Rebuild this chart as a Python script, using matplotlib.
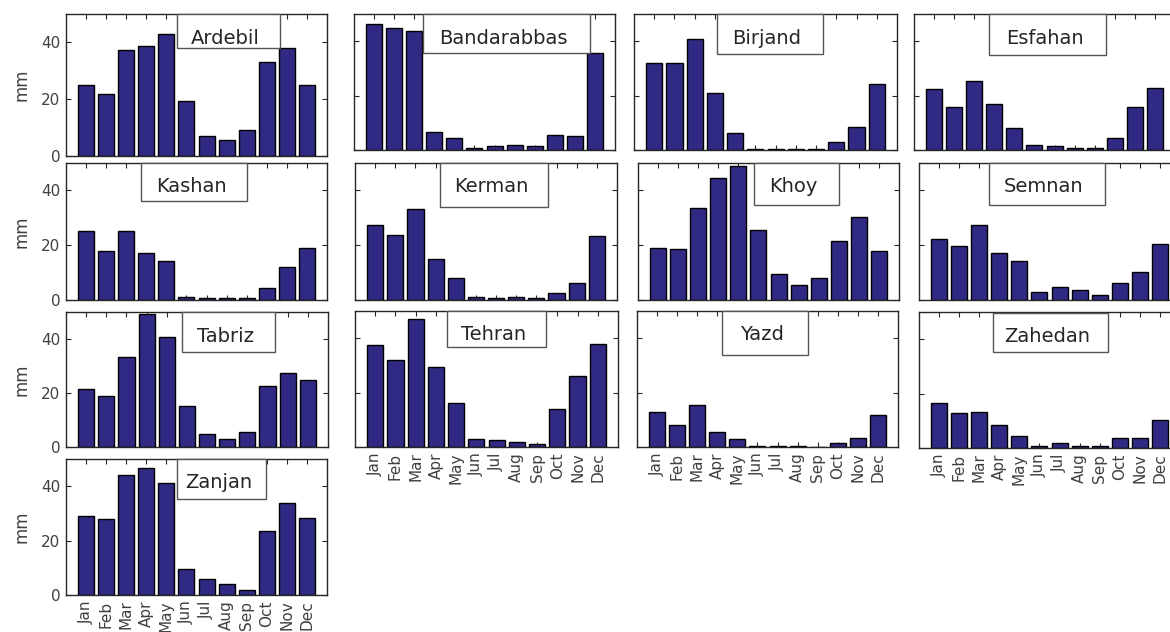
import matplotlib
matplotlib.use("Agg")
import matplotlib.pyplot as plt
from matplotlib.patches import Rectangle

plt.rcParams['font.family'] = ['DejaVu Sans']

months = ['Jan', 'Feb', 'Mar', 'Apr', 'May', 'Jun', 'Jul', 'Aug', 'Sep', 'Oct', 'Nov', 'Dec']
cities = ['Ardebil', 'Bandarabbas', 'Birjand', 'Esfahan', 'Kashan', 'Kerman', 'Khoy',
          'Semnan', 'Tabriz', 'Tehran', 'Yazd', 'Zahedan', 'Zanjan']

ardebil = [25.0, 22.0, 37.2, 38.9, 43.1, 19.2, 6.9, 5.7, 9.3, 33.2, 37.9, 25.0]
bandarabbas = [46.3, 44.8, 43.8, 6.7, 4.5, 0.9, 1.5, 1.9, 1.5, 5.6, 5.0, 35.5]
birjand = [32.1, 32.1, 40.9, 21.1, 6.1, 0.5, 0.5, 0.5, 0.5, 3.1, 8.6, 24.1]
esfahan = [22.3, 15.7, 25.5, 16.9, 8.0, 2.0, 1.5, 0.9, 0.9, 4.5, 15.7, 22.9]
kashan = [25.2, 18.0, 25.2, 17.3, 14.4, 1.2, 0.7, 0.7, 0.7, 4.3, 12.0, 19.1]
kerman = [27.4, 23.8, 33.3, 15.1, 7.9, 1.2, 0.7, 1.2, 0.7, 2.4, 6.1, 23.4]
khoy = [19.1, 18.6, 33.5, 44.6, 48.9, 25.5, 9.5, 5.5, 7.9, 21.6, 30.4, 17.9]
semnan = [22.1, 19.7, 27.4, 17.3, 14.4, 2.9, 4.9, 3.6, 1.8, 6.1, 10.2, 20.3]
tabriz = [21.3, 18.8, 33.5, 49.2, 40.7, 15.1, 4.7, 3.1, 5.5, 22.6, 27.5, 24.8]
tehran = [37.4, 32.0, 47.0, 29.5, 16.2, 3.1, 2.5, 1.7, 1.1, 14.0, 26.0, 38.0]
yazd = [13.0, 8.1, 15.5, 5.5, 3.0, 0.4, 0.4, 0.4, 0.1, 1.5, 3.3, 11.9]
zahedan = [16.4, 12.7, 13.2, 8.4, 4.3, 0.6, 1.8, 0.6, 0.6, 3.7, 3.7, 10.2]
zanjan = [29.1, 27.9, 44.2, 46.7, 41.3, 9.7, 5.9, 4.1, 1.7, 23.7, 33.9, 28.4]

series = [ardebil, bandarabbas, birjand, esfahan, kashan, kerman, khoy,
          semnan, tabriz, tehran, yazd, zahedan, zanjan]

yticks = [0, 20, 40]
ylabel = 'mm'

# ---- layout (figure pixels: left, top, right, bottom) ----
W, H = 1170, 632
axes_px = [
    (66, 14, 327, 156), (354, 14, 615, 150), (634, 14, 897, 150), (914, 14, 1175, 150),
    (66, 163, 327, 300), (355, 163, 617, 300), (638, 163, 899, 300), (919, 163, 1180, 300),
    (66, 312, 328, 447), (355, 311, 618, 447), (637, 311, 898, 447), (919, 312, 1180, 448),
    (66, 459, 327, 595),
]
legend_px = [
    (177, 14, 280, 48), (423, 14, 590, 53), (717, 14, 823, 54), (989, 14, 1106, 55),
    (141, 163, 247, 201), (440, 163, 548, 207), (754, 163, 839, 205), (989, 163, 1105, 205),
    (182, 312, 275, 352), (447, 311, 546, 347), (722, 311, 808, 355), (993, 313, 1108, 352),
    (177, 459, 266, 499),
]
first_col = {0, 4, 8, 12}
bottom_row = {9, 10, 11, 12}

bar_color = '#312A84'
axis_color = '#262626'
label_color = '#404040'

fig = plt.figure(figsize=(W / 100, H / 100), dpi=100)
fig.patch.set_facecolor('white')

x = list(range(1, 13))
for i, (name, vals) in enumerate(zip(cities, series)):
    L, T, R, B = axes_px[i]
    ax = fig.add_axes([L / W, 1 - B / H, (R - L) / W, (B - T) / H])
    ax.bar(x, vals, width=0.8, color=bar_color, edgecolor='black', linewidth=1.0, zorder=2)
    ax.set_xlim(0, 13)
    ax.set_ylim(0, 50)
    ax.set_xticks(x)
    ax.set_yticks(yticks)
    ax.tick_params(direction='in', length=3.5, width=0.8, color=axis_color,
                   top=True, right=True, labelsize=11, labelcolor=label_color, pad=4)
    for sp in ax.spines.values():
        sp.set_color(axis_color)
        sp.set_linewidth(1.0)
        sp.set_zorder(3)
    if i in first_col:
        ax.set_ylabel(ylabel, fontsize=12, color=label_color, labelpad=8)
    else:
        ax.set_yticklabels([])
    if i in bottom_row:
        ax.set_xticklabels(months, rotation=90, fontsize=11)
    else:
        ax.set_xticklabels([])

    # legend box
    lL, lT, lR, lB = legend_px[i]
    rect = Rectangle((lL / W, 1 - lB / H), (lR - lL) / W, (lB - lT) / H,
                     transform=fig.transFigure, facecolor='white', edgecolor='#555555',
                     linewidth=1.0, zorder=5, clip_on=False)
    ax.add_patch(rect)
    ax.text(((lL + lR) / 2 - 3) / W, 1 - (lT + 29.5) / H, name, transform=fig.transFigure,
            ha='center', va='baseline', fontsize=14, color='#262626', zorder=6, clip_on=False)

fig.savefig('out.png', dpi=100, facecolor='white')
